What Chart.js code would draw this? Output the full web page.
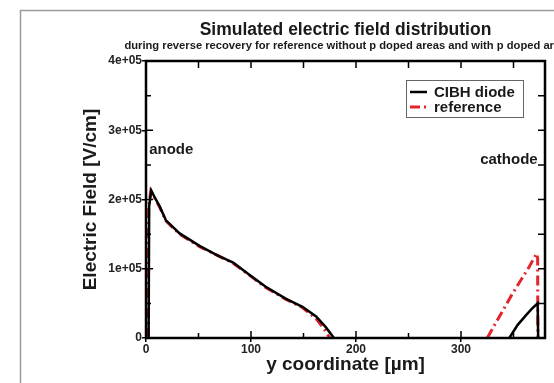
<!DOCTYPE html>
<html>
<head>
<meta charset="utf-8">
<script src="https://cdn.jsdelivr.net/npm/chart.js@4.4.1/dist/chart.umd.min.js"></script>
<style>
  html, body { margin: 0; padding: 0; background: #fff; }
  #wrap { position: relative; width: 554px; height: 383px; }
</style>
</head>
<body>
<div id="wrap"><canvas id="chart" width="554" height="383"></canvas></div>
<script>
// values (x in um, field in V/cm), null = no field drawn
const cibhX = [2.5, 3, 5, 8, 13, 19, 32, 51, 67, 83, 100, 114, 133, 149, 162, 171, 179, 260, 346, 354, 362, 368, 373, 373.5]
const cibhY = [0, 190000, 213000, 204000, 190000, 170000, 151000, 133000, 120000, 109000, 89500, 74000, 57000, 45000, 31000, 16000, 0, null, 0, 19000, 33000, 43000, 50000, 0]
const refX = [2, 2.5, 4.5, 8, 13, 19, 32, 51, 67, 83, 100, 114, 133, 149, 162, 170, 175, 250, 325, 349, 365, 372, 373, 373.2]
const refY = [0, 190000, 212000, 203000, 189000, 169000, 150000, 132000, 120000, 108000, 89000, 73000, 56000, 44000, 28000, 12000, 0, null, 0, 64000, 103000, 122000, 115000, 0]

const xTicks = [0, 100, 200, 300]
const yTicks = [0, 100000, 200000, 300000, 400000]

const FONT = "'Liberation Sans', Arial, Helvetica, sans-serif"
const RED = '#e3242b'

function pts(xs, ys) {
    return xs.map((x, i) => ({x: x, y: ys[i]}))
}

// grey figure frame, titles, inner ticks, legend, anode/cathode notes
const decor = {
    id: 'decor',
    beforeDraw(chart) {
        const ctx = chart.ctx
        ctx.save()
        ctx.strokeStyle = '#9a9a9a'
        ctx.lineWidth = 1.5
        ctx.strokeRect(20.5, 10.5, 700, 500)
        ctx.restore()
    },
    afterDatasetsDraw(chart) {
        const ctx = chart.ctx
        const a = chart.chartArea
        const xs = chart.scales.x, ys = chart.scales.y
        ctx.save()
        ctx.strokeStyle = '#000'
        ctx.lineWidth = 1.5
        // inward ticks on all four sides
        xs.ticks.forEach(t => {
            const px = xs.getPixelForValue(t.value)
            const len = xTicks.includes(t.value) ? 7 : 5
            ctx.beginPath()
            ctx.moveTo(px, a.bottom); ctx.lineTo(px, a.bottom - len)
            ctx.moveTo(px, a.top); ctx.lineTo(px, a.top + 7)
            ctx.stroke()
        })
        ys.ticks.forEach(t => {
            const py = ys.getPixelForValue(t.value)
            const len = yTicks.includes(t.value) ? 7 : 5
            ctx.beginPath()
            ctx.moveTo(a.left, py); ctx.lineTo(a.left + len, py)
            ctx.moveTo(a.right, py); ctx.lineTo(a.right - 7, py)
            ctx.stroke()
        })
        ctx.lineWidth = 2.5
        ctx.strokeRect(a.left, a.top, a.right - a.left, a.bottom - a.top)

        // titles
        const cx = (a.left + a.right) / 2
        ctx.fillStyle = '#1a1a1a'
        ctx.textAlign = 'center'
        ctx.textBaseline = 'middle'
        ctx.font = 'bold 17.5px ' + FONT
        ctx.fillText('Simulated electric field distribution', cx, 30)
        ctx.font = 'bold 11.2px ' + FONT
        ctx.fillText('during reverse recovery for reference without p doped areas and with p doped areas', cx + 3, 46)

        // notes
        ctx.font = 'bold 15px ' + FONT
        ctx.textAlign = 'left'
        ctx.fillText('anode', xs.getPixelForValue(3), ys.getPixelForValue(271000))
        ctx.textAlign = 'right'
        ctx.fillText('cathode', xs.getPixelForValue(373), ys.getPixelForValue(257000))

        // legend box
        const lx = 406, ly = 80, lw = 117, lh = 37
        ctx.fillStyle = '#fff'
        ctx.fillRect(lx, ly, lw, lh)
        ctx.strokeStyle = '#666'
        ctx.lineWidth = 1
        ctx.strokeRect(lx + 0.5, ly + 0.5, lw, lh)
        chart.data.datasets.forEach((ds, i) => {
            const y = ly + 12 + i * 15
            ctx.beginPath()
            ctx.strokeStyle = ds.borderColor
            ctx.lineWidth = ds.borderWidth
            ctx.setLineDash(ds.borderDash || [])
            ctx.moveTo(lx + 4, y); ctx.lineTo(lx + 21, y)
            ctx.stroke()
            ctx.setLineDash([])
            ctx.fillStyle = '#1a1a1a'
            ctx.textAlign = 'left'
            ctx.font = 'bold 15px ' + FONT
            ctx.fillText(ds.label, lx + 28, y + 1)
        })
        ctx.restore()
    }
}

const config = {
    type: 'line',
    data: {
        datasets: [{
            label: 'CIBH diode',
            data: pts(cibhX, cibhY),
            borderColor: '#000',
            borderWidth: 2.5,
            pointRadius: 0,
            spanGaps: false,
            tension: 0
        }, {
            label: 'reference',
            data: pts(refX, refY),
            borderColor: RED,
            borderWidth: 3,
            borderDash: [10, 4, 2, 4],
            pointRadius: 0,
            spanGaps: false,
            tension: 0
        }]
    },
    options: {
        responsive: false,
        animation: false,
        layout: {padding: {left: 0, right: 9, top: 61, bottom: 0}},
        plugins: {legend: {display: false}, tooltip: {enabled: false}},
        scales: {
            x: {
                type: 'linear',
                min: 0, max: 380,
                border: {display: false},
                grid: {
                    drawOnChartArea: false,
                    tickLength: 4,
                    lineWidth: 1.5,
                    color: ctx => xTicks.includes(ctx.tick && ctx.tick.value) ? '#000' : 'rgba(0,0,0,0)'
                },
                ticks: {
                    stepSize: 50,
                    includeBounds: false,
                    padding: 0,
                    maxRotation: 0,
                    color: '#222',
                    font: {family: FONT, size: 12, weight: 'bold'},
                    callback: v => xTicks.includes(v) ? String(v) : ''
                },
                title: {
                    display: true,
                    text: 'y coordinate [µm]',
                    color: '#1a1a1a',
                    font: {family: FONT, size: 19, weight: 'bold'},
                    padding: {top: 0, bottom: 7}
                },
                afterFit: s => { s.height = 45 }
            },
            y: {
                min: 0, max: 400000,
                border: {display: false},
                grid: {
                    drawOnChartArea: false,
                    tickLength: 4,
                    lineWidth: 1.5,
                    color: ctx => yTicks.includes(ctx.tick && ctx.tick.value) ? '#000' : 'rgba(0,0,0,0)'
                },
                ticks: {
                    stepSize: 50000,
                    padding: 0,
                    color: '#222',
                    font: {family: FONT, size: 12, weight: 'bold'},
                    callback: v => yTicks.includes(v) ? (v === 0 ? '0' : (v / 100000) + 'e+05') : ''
                },
                title: {
                    display: true,
                    text: 'Electric Field [V/cm]',
                    color: '#1a1a1a',
                    font: {family: FONT, size: 19, weight: 'bold'},
                    padding: {top: 79, bottom: 0}
                },
                afterFit: s => { s.width = 146 }
            }
        }
    },
    plugins: [decor]
}

new Chart(document.getElementById('chart'), config)
</script>
</body>
</html>
